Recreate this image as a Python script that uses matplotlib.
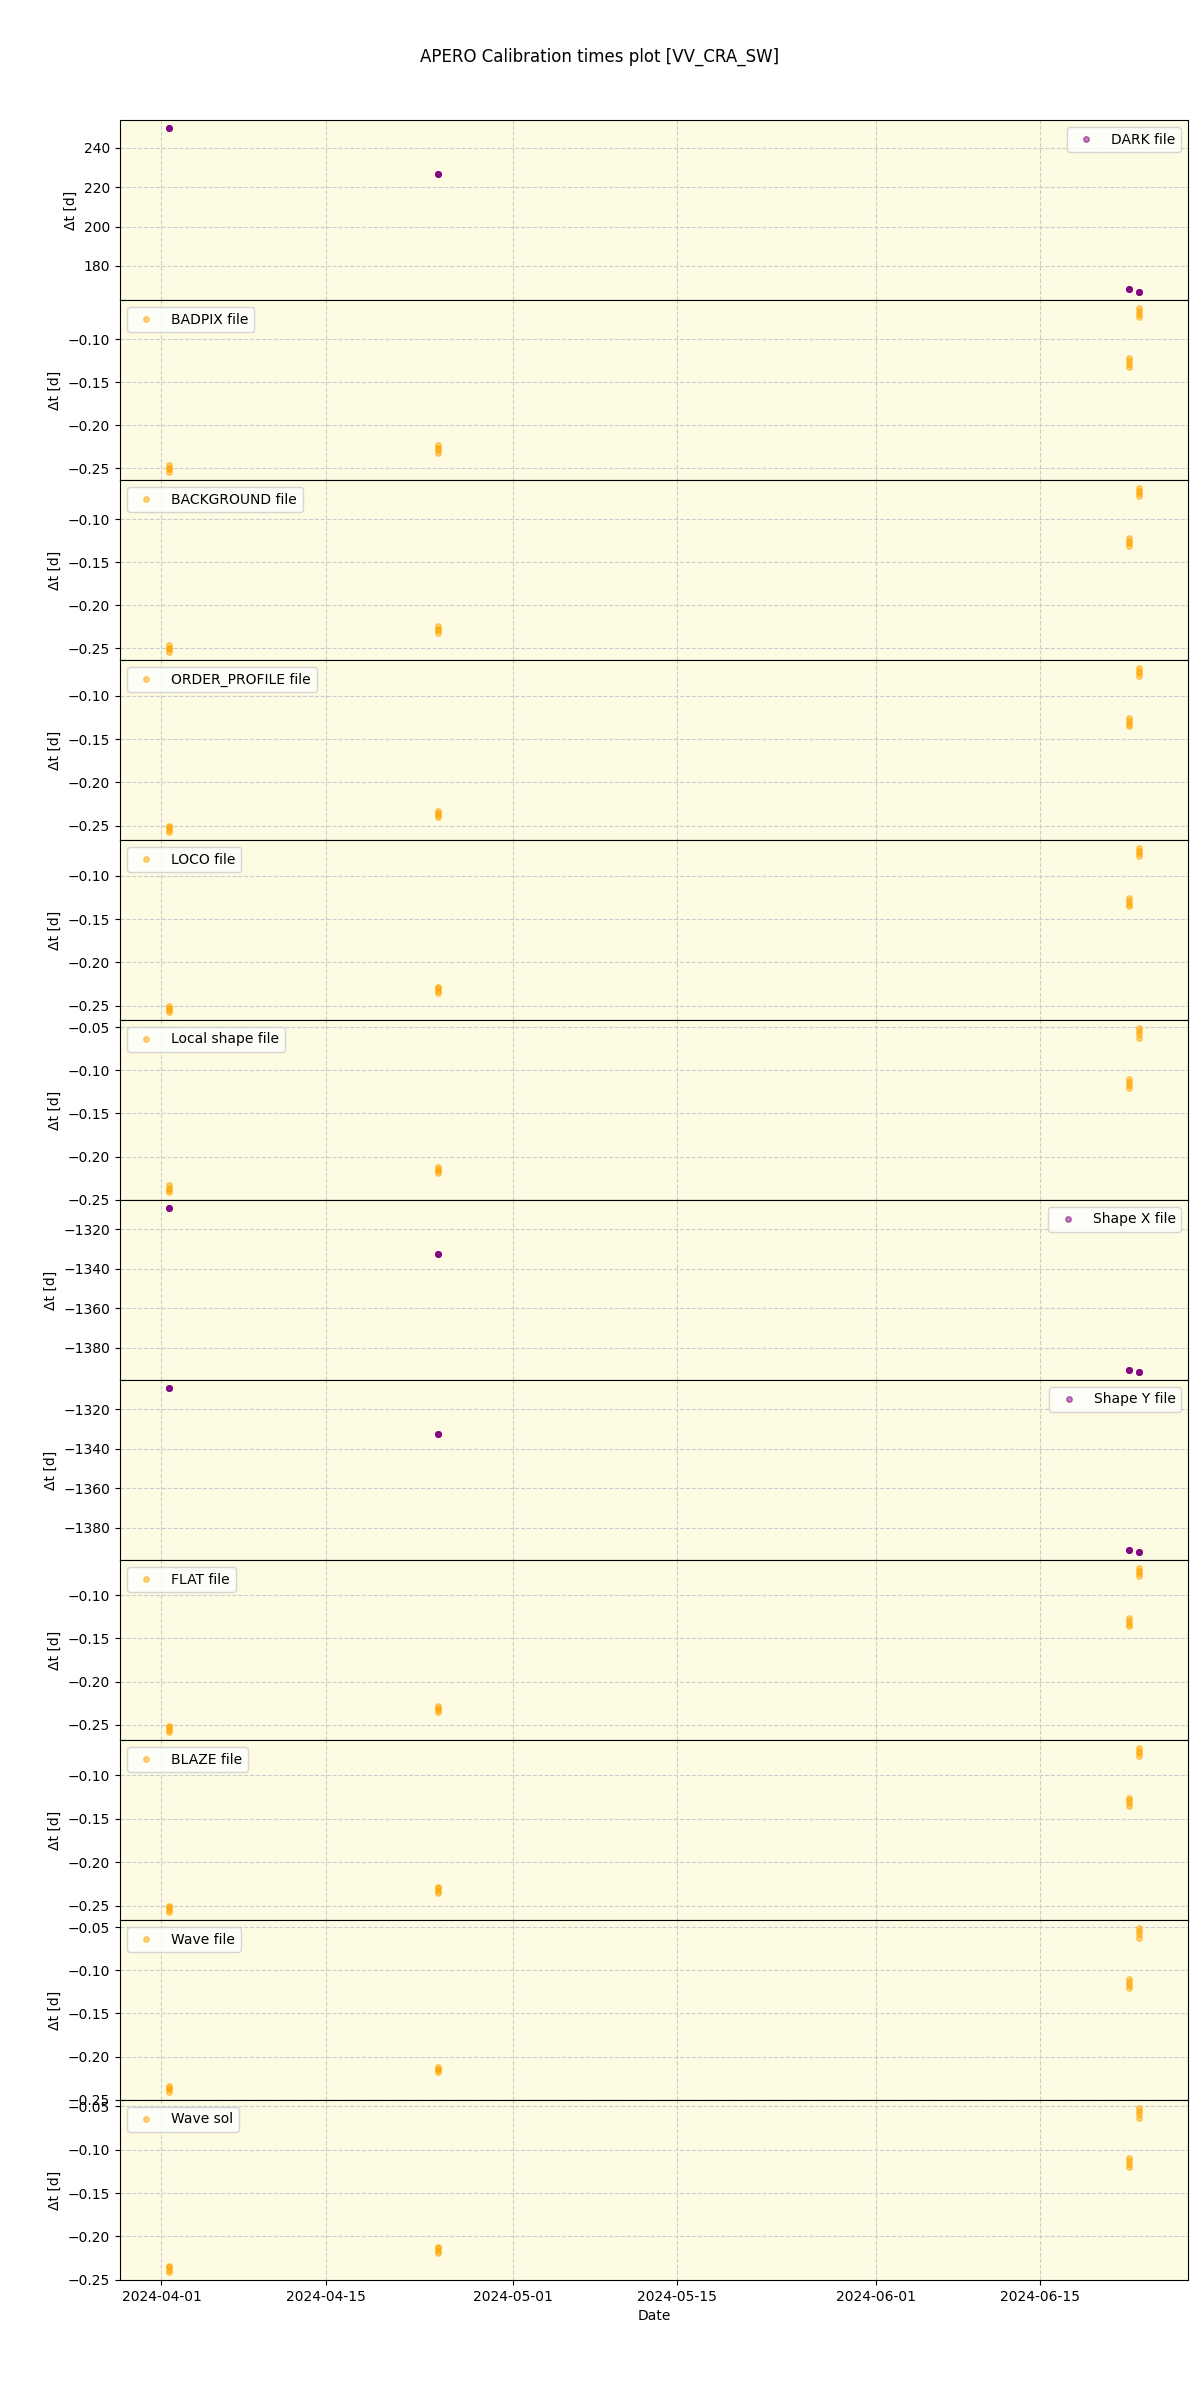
import numpy as np
import pandas as pd
import matplotlib
matplotlib.use('Agg')
import matplotlib.pyplot as plt

# observation nights (4 frames per night)
nights = ['2024-04-01 14:30', '2024-04-24 14:30', '2024-06-22 13:30', '2024-06-23 11:00']
n_frames = 4

# delta t [days] between calibration file and observation, per night
dark = [[249.9, 249.9, 249.9, 249.9], [226.9, 226.9, 226.9, 226.9],
        [168.3, 168.3, 168.3, 168.3], [166.9, 166.9, 166.9, 166.9]]
badpix = [[-0.246, -0.249, -0.251, -0.254], [-0.223, -0.226, -0.229, -0.232],
          [-0.122, -0.125, -0.129, -0.132], [-0.064, -0.067, -0.071, -0.074]]
background = [[-0.246, -0.249, -0.251, -0.254], [-0.224, -0.227, -0.229, -0.232],
              [-0.122, -0.125, -0.128, -0.131], [-0.064, -0.067, -0.070, -0.073]]
order_profile = [[-0.250, -0.252, -0.255, -0.257], [-0.233, -0.235, -0.237, -0.240],
                 [-0.126, -0.129, -0.132, -0.135], [-0.068, -0.071, -0.074, -0.077]]
loco = [[-0.250, -0.253, -0.255, -0.257], [-0.228, -0.230, -0.233, -0.235],
        [-0.126, -0.129, -0.132, -0.135], [-0.068, -0.071, -0.074, -0.077]]
local_shape = [[-0.233, -0.236, -0.239, -0.241], [-0.212, -0.214, -0.217, -0.219],
               [-0.110, -0.113, -0.117, -0.120], [-0.051, -0.054, -0.058, -0.062]]
shape_x = [[-1309.4, -1309.4, -1309.4, -1309.4], [-1332.5, -1332.5, -1332.5, -1332.5],
           [-1391.2, -1391.2, -1391.2, -1391.2], [-1392.2, -1392.2, -1392.2, -1392.2]]
shape_y = [[-1309.4, -1309.4, -1309.4, -1309.4], [-1332.5, -1332.5, -1332.5, -1332.5],
           [-1391.2, -1391.2, -1391.2, -1391.2], [-1392.2, -1392.2, -1392.2, -1392.2]]
flat = [[-0.251, -0.253, -0.256, -0.258], [-0.228, -0.230, -0.233, -0.235],
        [-0.127, -0.130, -0.133, -0.136], [-0.069, -0.072, -0.075, -0.078]]
blaze = [[-0.250, -0.252, -0.255, -0.257], [-0.228, -0.230, -0.233, -0.235],
         [-0.126, -0.129, -0.132, -0.135], [-0.069, -0.072, -0.075, -0.078]]
wave_file = [[-0.234, -0.236, -0.238, -0.241], [-0.212, -0.214, -0.216, -0.218],
             [-0.110, -0.113, -0.117, -0.120], [-0.051, -0.054, -0.058, -0.062]]
wave_sol = [[-0.234, -0.236, -0.239, -0.241], [-0.212, -0.214, -0.217, -0.219],
            [-0.110, -0.113, -0.117, -0.120], [-0.052, -0.055, -0.059, -0.063]]

labels = ['DARK file', 'BADPIX file', 'BACKGROUND file', 'ORDER_PROFILE file',
          'LOCO file', 'Local shape file', 'Shape X file', 'Shape Y file',
          'FLAT file', 'BLAZE file', 'Wave file', 'Wave sol']
series = [dark, badpix, background, order_profile, loco, local_shape,
          shape_x, shape_y, flat, blaze, wave_file, wave_sol]
colours = ['purple', 'orange', 'orange', 'orange', 'orange', 'orange',
           'purple', 'purple', 'orange', 'orange', 'orange', 'orange']
legend_loc = ['upper right', 'upper left', 'upper left', 'upper left',
              'upper left', 'upper left', 'upper right', 'upper right',
              'upper left', 'upper left', 'upper left', 'upper left']

times = pd.to_datetime(nights).repeat(n_frames)

fig, axes = plt.subplots(len(series), 1, figsize=(12, 24), sharex=True)
plt.subplots_adjust(left=0.1, right=0.99, top=0.95, bottom=0.05, hspace=0)

for ax, vals, lab, col, loc in zip(axes, series, labels, colours, legend_loc):
    ax.set_facecolor('#fdfbe2')
    ax.plot(times, np.array(vals).ravel(), 'o', color=col, ms=4, alpha=0.5,
            label=lab)
    ax.grid(True, linestyle='--', color='0.8', linewidth=0.8)
    ax.set_axisbelow(True)
    ax.set_ylabel('Δt [d]')
    ax.legend(loc=loc)

axes[-1].set_xlabel('Date')
fig.suptitle('APERO Calibration times plot [VV_CRA_SW]')

plt.savefig('out.png', dpi=100)
